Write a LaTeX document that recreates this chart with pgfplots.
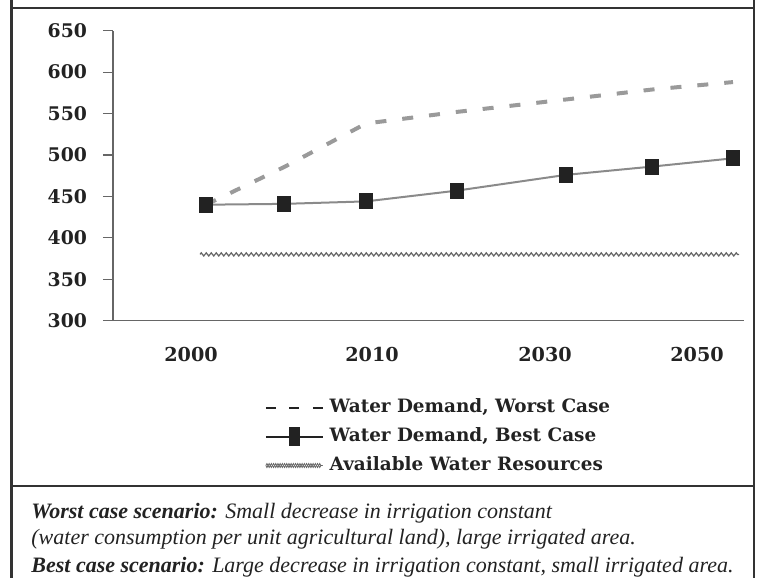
\documentclass[border=0pt]{standalone}
\usepackage{fontspec}
\setmainfont{Liberation Serif}
\newfontfamily\tickfont{DejaVu Serif}
\usepackage{pgfplots}
\pgfplotsset{compat=1.18}
\usetikzlibrary{decorations.pathmorphing}
\definecolor{axisgray}{HTML}{666666}
\definecolor{worstgray}{HTML}{9A9A9A}
\definecolor{bestgray}{HTML}{8A8A8A}
\definecolor{markblack}{HTML}{222222}
\definecolor{availgray}{HTML}{666666}
\definecolor{framec}{HTML}{333333}
\begin{document}
\begin{tikzpicture}
\begin{scope}[x=0.5pt,y=-0.5pt]
\useasboundingbox (0,0) rectangle (757,578);
\draw[framec, line width=1.4pt] (11.5,0) -- (11.5,578) (754,0) -- (754,578) (11.5,8) -- (754,8) (11.5,486) -- (754,486);
\node[anchor=base west, inner sep=0, text=markblack, font=\fontsize{11}{13}\selectfont\itshape] at (31,518) {\textbf{Worst case scenario:} Small decrease in irrigation constant};
\node[anchor=base west, inner sep=0, text=markblack, font=\fontsize{11}{13}\selectfont\itshape] at (31,544) {(water consumption per unit agricultural land), large irrigated area.};
\node[anchor=base west, inner sep=0, text=markblack, font=\fontsize{11}{13}\selectfont\itshape] at (31,572) {\textbf{Best case scenario:} Large decrease in irrigation constant, small irrigated area.};
\end{scope}
\begin{axis}[
  at={(56.5pt,-160.35pt)}, anchor=south west,
  scale only axis, width=315.5pt, height=145pt,
  xmin=113, xmax=744, ymin=300, ymax=650,
  axis x line*=bottom, axis y line*=left,
  axis line style={axisgray, line width=0.6pt},
  tick align=outside, major tick length=5pt,
  tick style={axisgray, line width=0.6pt},
  ytick={300,350,...,650},
  xtick={191,372,545,697},
  xticklabels={2000,2010,2030,2050},
  x tick style={draw=none},
  extra x ticks={292,469,645},
  extra x tick labels={},
  extra x tick style={major tick length=3.3pt, tick style={draw=axisgray}},
  /pgf/number format/assume math mode=true,
  /pgf/number format/1000 sep={},
  yticklabel style={font=\tickfont\bfseries\fontsize{9.4}{11}\selectfont, text=markblack, xshift=-4.5pt},
  xticklabel style={font=\tickfont\bfseries\fontsize{9.6}{11}\selectfont, text=markblack, yshift=-4.5pt},
  clip=false,
  legend style={draw=none, fill=none, at={(0.24,-0.267)}, anchor=north west, inner sep=0pt,
    font=\tickfont\bfseries\fontsize{9.2}{11}\selectfont, text=markblack,
    row sep=5.5pt, nodes={inner xsep=3pt, inner ysep=0pt, text height=7pt, text depth=2pt}},
  legend cell align=left,
  legend image code/.code={\draw[mark repeat=2,mark phase=2,#1] plot coordinates {(0cm,0cm) (0.5cm,0cm) (1.0cm,0cm)};},
]
\draw[axisgray, line width=0.6pt] (rel axis cs:-0.0158,0) -- (rel axis cs:0,0);
\addplot[forget plot, worstgray, line width=2pt, dash pattern=on 5.5pt off 8pt] coordinates {
(206,440) (285,486) (366,538) (457,552) (566,567) (652,579) (733,588)};
\addplot[forget plot, availgray, line width=0.6pt, decorate, decoration={zigzag, segment length=2.5pt, amplitude=0.8pt}] coordinates {
(200,380) (739,380)};
\addplot[forget plot, bestgray, line width=1pt, mark=square*, mark size=3.5pt, mark options={xscale=0.79, draw=markblack, fill=markblack, solid}] coordinates {
(206,440) (284,441) (366,444) (457,457) (566,476) (652,486) (733,496)};
\addlegendimage{markblack, line width=1pt, dash pattern=on 5pt off 6.75pt}
\addlegendentry{Water Demand, Worst Case}
\addlegendimage{markblack, line width=1pt, mark=square*, mark size=4.2pt, mark options={xscale=0.55, fill=markblack, solid}}
\addlegendentry{Water Demand, Best Case}
\addlegendimage{legend image code/.code={
  \draw[availgray, line width=0.4pt, decorate, decoration={zigzag, segment length=2.2pt, amplitude=1pt}] (0cm,0cm) -- (1.0cm,0cm);
  \draw[availgray, line width=0.4pt, decorate, decoration={zigzag, segment length=2.2pt, amplitude=-1pt}] (0cm,0cm) -- (1.0cm,0cm);}}
\addlegendentry{Available Water Resources}
\end{axis}
\end{tikzpicture}
\end{document}
